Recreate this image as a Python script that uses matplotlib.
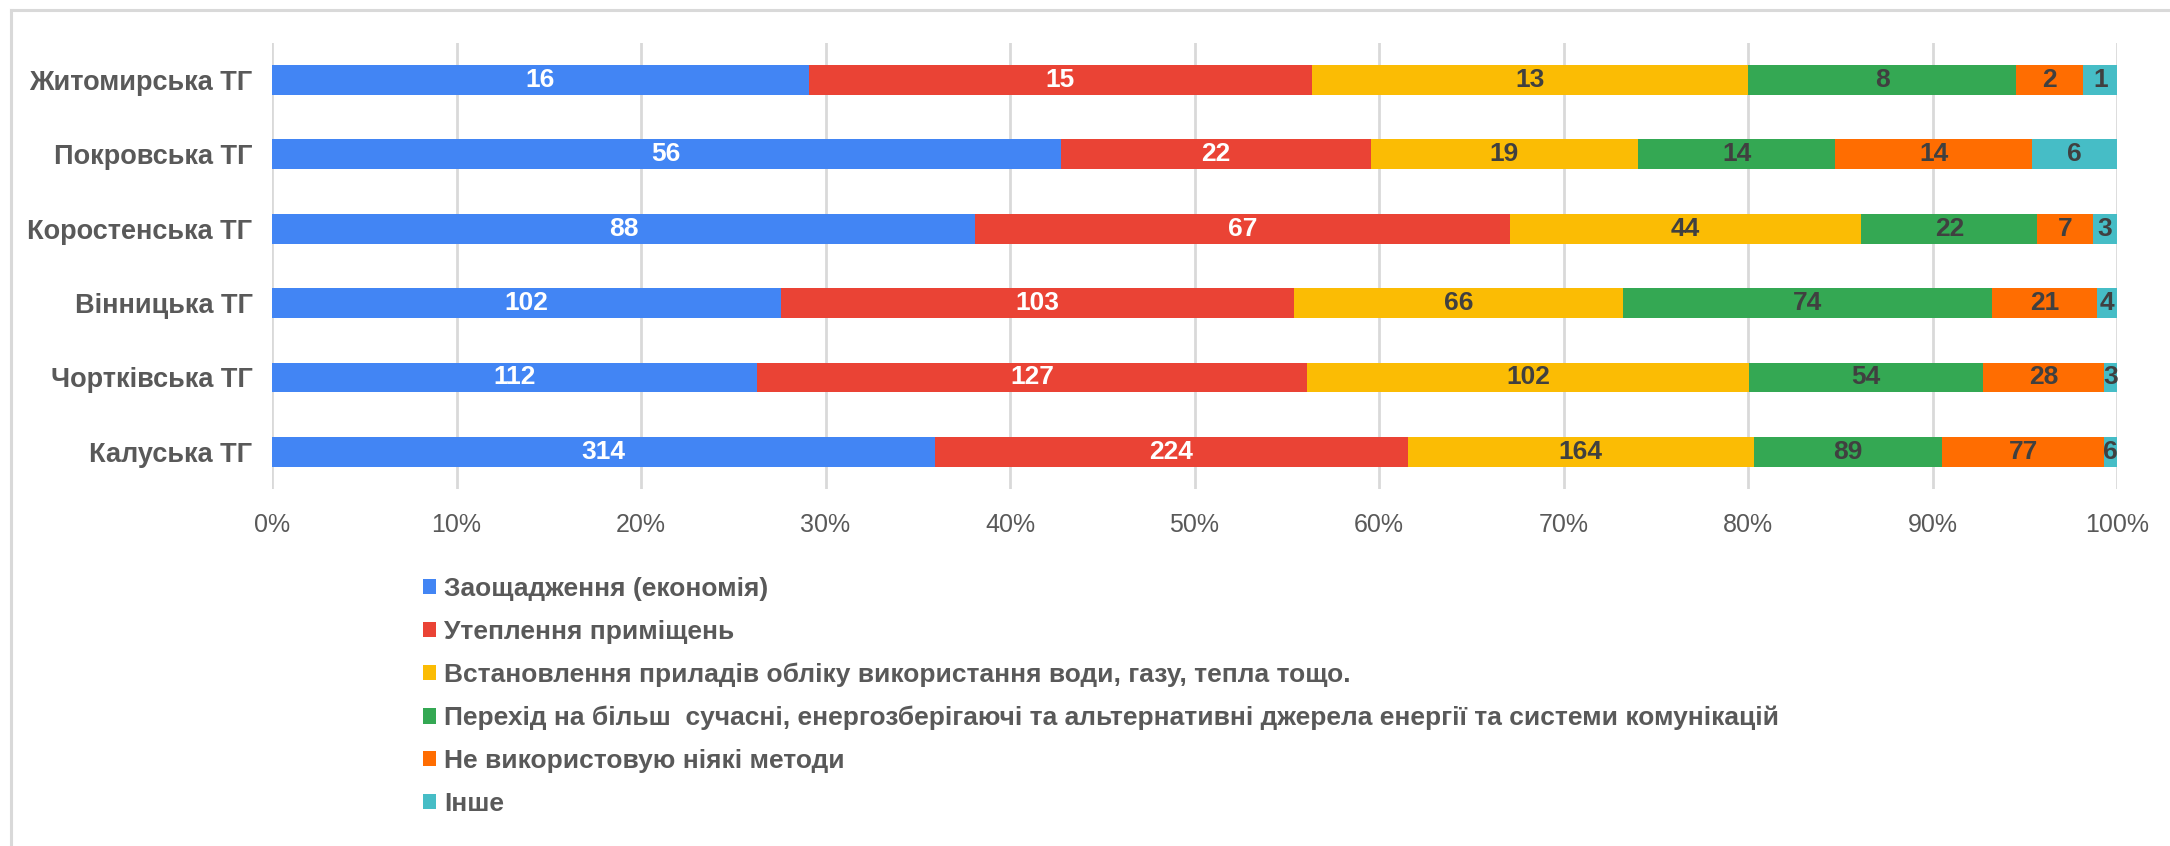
import matplotlib
matplotlib.use("Agg")
import matplotlib.pyplot as plt
import numpy as np
from matplotlib.patches import Patch
from matplotlib.lines import Line2D

# --- data -------------------------------------------------------------
communities = ["Житомирська ТГ", "Покровська ТГ", "Коростенська ТГ",
               "Вінницька ТГ", "Чортківська ТГ", "Калуська ТГ"]

series_names = [
    "Заощадження (економія)",
    "Утеплення приміщень",
    "Встановлення приладів обліку використання води, газу, тепла тощо.",
    "Перехід на більш  сучасні, енергозберігаючі та альтернативні джерела енергії та системи комунікацій",
    "Не використовую ніякі методи",
    "Інше",
]

savings      = [16, 56, 88, 102, 112, 314]
insulation   = [15, 22, 67, 103, 127, 224]
meters       = [13, 19, 44, 66, 102, 164]
modern       = [8, 14, 22, 74, 54, 89]
none_methods = [2, 14, 7, 21, 28, 77]
other        = [1, 6, 3, 4, 3, 6]

series = [savings, insulation, meters, modern, none_methods, other]
colors = ["#4285F4", "#EA4335", "#FBBC04", "#34A853", "#FF6D01", "#46BDC6"]
label_colors = ["white", "white", "#404040", "#404040", "#404040", "#404040"]
x_ticks = [0, 10, 20, 30, 40, 50, 60, 70, 80, 90, 100]

plt.rcParams["font.family"] = ["Liberation Sans", "DejaVu Sans"]

TEXT_GRAY = "#595959"

W, H = 2170, 846
fig = plt.figure(figsize=(W / 100, H / 100), dpi=100)
fig.patch.set_facecolor("white")

# frame edges (top and left)
fx, fy = 10.5 / W, 1 - 10.5 / H
fig.add_artist(Line2D([fx, 1], [fy, fy], transform=fig.transFigure,
                      color="#D9D9D9", linewidth=2.2))
fig.add_artist(Line2D([fx, fx], [0, fy], transform=fig.transFigure,
                      color="#D9D9D9", linewidth=2.2))

left, right = 272 / W, 2117 / W
top, bottom = 1 - 42.7 / H, 1 - 489 / H
ax = fig.add_axes([left, bottom, right - left, top - bottom])

data = np.array(series, dtype=float)
totals = data.sum(axis=0)
shares = data / totals * 100
y = np.arange(len(communities))

cum = np.zeros(len(communities))
for vals, share, name, col, lcol in zip(series, shares, series_names, colors, label_colors):
    bars = ax.barh(y, share, left=cum, height=0.4, color=col, label=name,
                   edgecolor="none", zorder=3)
    ax.bar_label(bars, labels=[str(v) for v in vals], label_type="center",
                 color=lcol, fontsize=19, fontweight="bold")
    cum += share

ax.set_xlim(0, 100)
ax.set_ylim(len(communities) - 0.5, -0.5)
ax.set_yticks(y)
ax.set_yticklabels(communities, fontsize=19.5, fontweight="bold", color=TEXT_GRAY)
ax.set_xticks(x_ticks)
ax.set_xticklabels([f"{t}%" for t in x_ticks], fontsize=18, color=TEXT_GRAY)
ax.tick_params(axis="both", length=0)
ax.tick_params(axis="y", pad=14)
ax.tick_params(axis="x", pad=17)
ax.grid(axis="x", color="#D9D9D9", linewidth=2, zorder=0)
for s in ax.spines.values():
    s.set_visible(False)

handles = [Patch(facecolor=c, edgecolor="none") for c in colors]
fig.legend(handles, series_names, loc="upper left",
           bbox_to_anchor=(410 / W, 1 - 564 / H), frameon=False,
           handlelength=0.5, handleheight=0.5,
           handletextpad=0.3, labelspacing=0.71, borderpad=0,
           prop={"weight": "bold", "size": 19}, labelcolor=TEXT_GRAY)

fig.savefig("out.png", dpi=100, facecolor="white")
